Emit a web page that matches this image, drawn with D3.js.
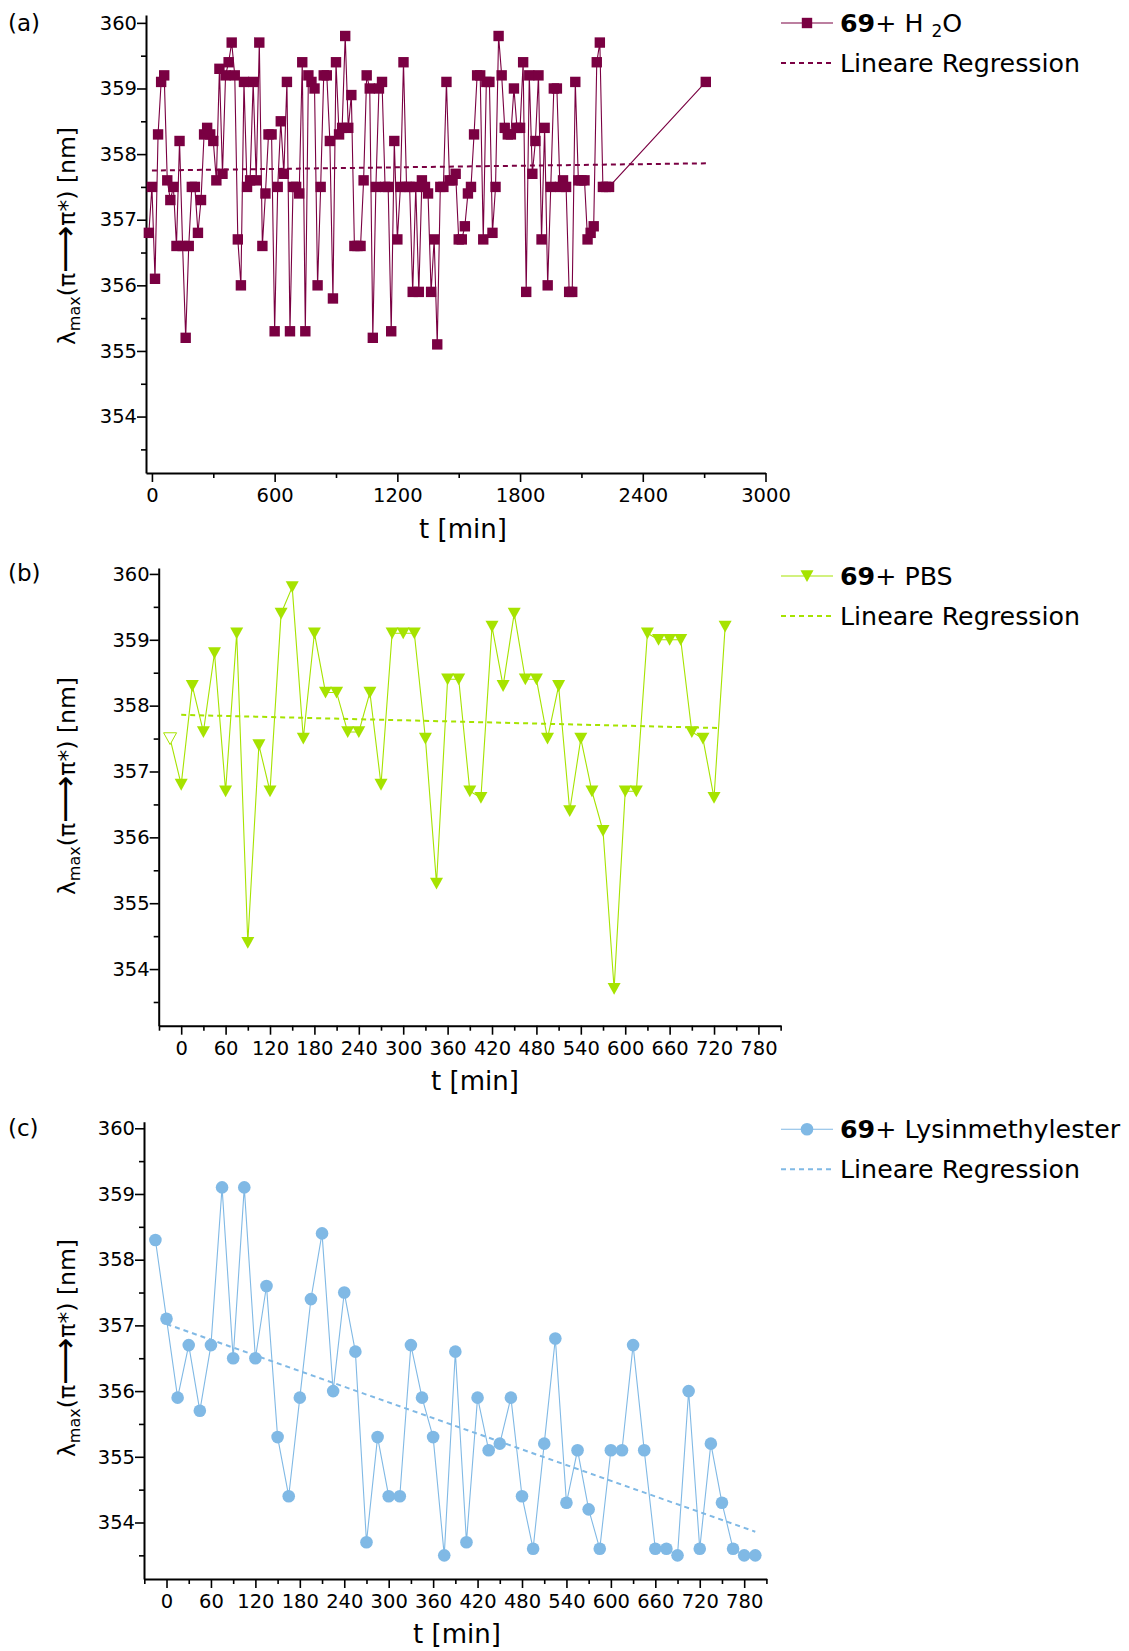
<!DOCTYPE html>
<html><head><meta charset="utf-8">
<script src="https://cdn.jsdelivr.net/npm/d3@7"></script>
<style>
body{margin:0;background:#fff}
svg{display:block}
text{font-family:"DejaVu Sans",Verdana,sans-serif;fill:#000}
</style>
</head><body>
<svg id="chart" width="1129" height="1651"></svg>
<script>
// ---------- data ----------
const yTickValues = [354,355,356,357,358,359,360];
const yMinorValues = [353.5,354.5,355.5,356.5,357.5,358.5,359.5];
const xTicksA = [0,600,1200,1800,2400,3000];
const xMinorA = [300,900,1500,2100,2700];
const xTicksBC = [0,60,120,180,240,300,360,420,480,540,600,660,720,780];
const xMinorBC = [-30,30,90,150,210,270,330,390,450,510,570,630,690,750,810];

const timeA = [-15,0,15,30,45,60,75,90,105,120,135,150,165,180,195,210,225,240,255,270,285,300,315,330,345,360,375,390,405,420,435,450,465,480,495,510,525,540,555,570,585,600,615,630,645,660,675,690,705,720,735,750,765,780,795,810,825,840,855,870,885,900,915,930,945,960,975,990,1005,1020,1035,1050,1065,1080,1095,1110,1125,1140,1155,1170,1185,1200,1215,1230,1245,1260,1275,1290,1305,1320,1335,1350,1365,1380,1395,1410,1425,1440,1455,1470,1485,1500,1515,1530,1545,1560,1575,1590,1605,1620,1635,1650,1665,1680,1695,1710,1725,1740,1755,1770,1785,1800,1815,1830,1845,1860,1875,1890,1905,1920,1935,1950,1965,1980,1995,2010,2025,2040,2055,2070,2085,2100,2115,2130,2145,2160,2175,2190,2205,2220,2235,2708];
const valueA = [356.8,357.5,356.1,358.3,359.1,359.2,357.6,357.3,357.5,356.6,
358.2,356.6,355.2,356.6,357.5,357.5,356.8,357.3,358.3,358.4,
358.3,358.2,357.6,359.3,357.7,359.2,359.4,359.7,359.2,356.7,
356.0,359.1,357.5,357.6,359.1,357.6,359.7,356.6,357.4,358.3,
358.3,355.3,357.5,358.5,357.7,359.1,355.3,357.5,357.5,357.4,
359.4,355.3,359.2,359.1,359.0,356.0,357.5,359.2,359.2,358.2,
355.8,359.4,358.3,358.4,359.8,358.4,358.9,356.6,356.6,356.6,
357.6,359.2,359.0,355.2,357.5,359.0,359.1,357.5,357.5,355.3,
358.2,356.7,357.5,359.4,357.5,357.5,355.9,357.5,355.9,357.6,
357.5,357.4,355.9,356.7,355.1,357.5,357.5,359.1,357.6,357.6,
357.7,356.7,356.7,356.9,357.4,357.5,358.3,359.2,359.2,356.7,
359.1,359.1,356.8,357.5,359.8,359.2,358.4,358.3,358.3,359.0,
358.4,358.4,359.4,355.9,359.2,357.7,358.2,359.2,356.7,358.4,
356.0,357.5,359.0,359.0,357.5,357.6,357.5,355.9,355.9,359.1,
357.6,357.6,357.6,356.7,356.8,356.9,359.4,359.7,357.5,357.5,
357.5,359.1];
const regTimeA = [0,2720];
const regValueA = [357.75,357.86];

const timeB = [-15,0,15,30,45,60,75,90,105,120,135,150,165,180,195,210,225,240,255,270,285,300,315,330,345,360,375,390,405,420,435,450,465,480,495,510,525,540,555,570,585,600,615,630,645,660,675,690,705,720,735];
const valueB = [357.5,356.8,358.3,357.6,358.8,356.7,359.1,354.4,357.4,356.7,
359.4,359.8,357.5,359.1,358.2,358.2,357.6,357.6,358.2,356.8,
359.1,359.1,359.1,357.5,355.3,358.4,358.4,356.7,356.6,359.2,
358.3,359.4,358.4,358.4,357.5,358.3,356.4,357.5,356.7,356.1,
353.7,356.7,356.7,359.1,359.0,359.0,359.0,357.6,357.5,356.6,359.2];
const hollowB = [true];
const regTimeB = [0,727];
const regValueB = [357.86,357.66];

const timeC = [-15,0,15,30,45,60,75,90,105,120,135,150,165,180,195,210,225,240,255,270,285,300,315,330,345,360,375,390,405,420,435,450,465,480,495,510,525,540,555,570,585,600,615,630,645,660,675,690,705,720,735,750,765,780,795];
const valueC = [358.3,357.1,355.9,356.7,355.7,356.7,359.1,356.5,359.1,356.5,
357.6,355.3,354.4,355.9,357.4,358.4,356.0,357.5,356.6,353.7,
355.3,354.4,354.4,356.7,355.9,355.3,353.5,356.6,353.7,355.9,
355.1,355.2,355.9,354.4,353.6,355.2,356.8,354.3,355.1,354.2,
353.6,355.1,355.1,356.7,355.1,353.6,353.6,353.5,356.0,353.6,
355.2,354.3,353.6,353.5,353.5];
const regTimeC = [0,795];
const regValueC = [357.02,353.86];

// ---------- drawing ----------
const svg = d3.select("#chart");
const LEG_FS = "25.3px";

function markerPath(type){
  if(type==="square") return "M-5.2,-5.2H5.2V5.2H-5.2Z";
  if(type==="triangle") return "M-6.5,-5.8L6.5,-5.8L0,6Z";
  return d3.symbol().type(d3.symbolCircle).size(Math.PI*6.3*6.3)();
}

function panel(o){
  const g = svg.append("g");
  const x = d3.scaleLinear().domain(o.xDomain).range([o.left,o.right]);
  const y = d3.scaleLinear().domain(o.yDomain).range([o.bottom,o.top]);

  g.append("g").attr("transform",`translate(${o.left},0)`)
    .call(d3.axisLeft(y).tickValues(yTickValues).tickSize(9).tickSizeOuter(0).tickPadding(0).tickFormat(d3.format("d")));
  g.append("g").attr("transform",`translate(${o.left},0)`)
    .call(d3.axisLeft(y).tickValues(yMinorValues).tickSize(5).tickSizeOuter(0).tickFormat(""))
    .select(".domain").remove();
  g.append("g").attr("transform",`translate(0,${o.bottom})`)
    .call(d3.axisBottom(x).tickValues(o.xTicks).tickSize(9).tickSizeOuter(0).tickPadding(6).tickFormat(d3.format("d")));
  g.append("g").attr("transform",`translate(0,${o.bottom})`)
    .call(d3.axisBottom(x).tickValues(o.xMinor).tickSize(5).tickSizeOuter(0).tickFormat(""))
    .select(".domain").remove();
  g.selectAll(".domain").attr("stroke","#000").attr("stroke-width",2);
  g.selectAll(".tick line").attr("stroke","#000").attr("stroke-width",1.6);
  g.selectAll(".tick text").attr("font-size","19.5px").attr("font-family","DejaVu Sans, Verdana, sans-serif").attr("fill","#111");

  const pts = o.t.map((t,i)=>[t,o.v[i]]);
  g.append("path").datum(pts)
    .attr("fill","none").attr("stroke",o.color).attr("stroke-width",1.1)
    .attr("d",d3.line().x(d=>x(d[0])).y(d=>y(d[1])));
  const reg = o.rt.map((t,i)=>[t,o.rv[i]]);
  g.append("path").datum(reg)
    .attr("fill","none").attr("stroke",o.color).attr("stroke-width",2)
    .attr("stroke-dasharray","5,4")
    .attr("d",d3.line().x(d=>x(d[0])).y(d=>y(d[1])));
  g.selectAll("path.mk").data(pts).join("path").attr("class","mk")
    .attr("transform",d=>`translate(${x(d[0])},${y(d[1])})`)
    .attr("d",markerPath(o.marker))
    .attr("fill",(d,i)=> (o.hollow && o.hollow[i]) ? "#fff" : o.color)
    .attr("stroke",o.color).attr("stroke-width",(d,i)=> (o.hollow && o.hollow[i]) ? 1 : 0);

  svg.append("text").attr("x",8).attr("y",o.letterY).attr("font-size","23px").text(o.letter);

  const yl = svg.append("text")
    .attr("transform",`translate(75,${o.ylabelY}) rotate(-90)`)
    .attr("text-anchor","middle").attr("font-size","23.5px");
  yl.append("tspan").text("λ");
  yl.append("tspan").attr("font-size","16px").attr("dy","5").text("max");
  yl.append("tspan").attr("dy","-5").text("(π");
  yl.append("tspan").attr("font-size","33px").attr("dy","1").text("⟶");
  yl.append("tspan").attr("dy","-1").text("π*) [nm]");

  svg.append("text").attr("x",o.xlabelX).attr("y",o.xlabelY)
    .attr("text-anchor","middle").attr("font-size","26px").text("t [min]");

  const lg = svg.append("g");
  lg.append("line").attr("x1",781).attr("x2",833).attr("y1",o.legY).attr("y2",o.legY)
    .attr("stroke",o.color).attr("stroke-width",1.1);
  lg.append("path").attr("transform",`translate(807,${o.legY})`).attr("d",markerPath(o.marker)).attr("fill",o.color);
  const lt = lg.append("text").attr("x",840).attr("y",o.legY+9).attr("font-size",LEG_FS);
  lt.append("tspan").attr("font-weight","bold").text("69");
  o.legendText(lt);
  lg.append("line").attr("x1",781).attr("x2",833).attr("y1",o.legY+40).attr("y2",o.legY+40)
    .attr("stroke",o.color).attr("stroke-width",2).attr("stroke-dasharray","5,4");
  lg.append("text").attr("x",840).attr("y",o.legY+49).attr("font-size",LEG_FS).text("Lineare Regression");
}

panel({
  left:146,right:765.5,top:15,bottom:473,
  xDomain:[-29,3000], yDomain:[353.14,360.12],
  xTicks:xTicksA, xMinor:xMinorA,
  t:timeA, v:valueA, rt:regTimeA, rv:regValueA,
  color:"#7a0042", marker:"square",
  letter:"(a)", letterY:31, ylabelY:236, xlabelX:463, xlabelY:538,
  legY:23,
  legendText: lt => { lt.append("tspan").text("+ H "); lt.append("tspan").attr("font-size","17px").attr("dy","5").text("2"); lt.append("tspan").attr("dy","-5").text("O"); }
});
panel({
  left:158.7,right:781,top:568,bottom:1025.7,
  xDomain:[-30.4,810.5], yDomain:[353.14,360.09],
  xTicks:xTicksBC, xMinor:xMinorBC,
  t:timeB, v:valueB, rt:regTimeB, rv:regValueB, hollow:hollowB,
  color:"#a6e300", marker:"triangle",
  letter:"(b)", letterY:581, ylabelY:786, xlabelX:475, xlabelY:1090,
  legY:576,
  legendText: lt => { lt.append("tspan").text("+ PBS"); }
});
panel({
  left:144,right:766.7,top:1121.7,bottom:1579,
  xDomain:[-30.4,810.4], yDomain:[353.14,360.1],
  xTicks:xTicksBC, xMinor:xMinorBC,
  t:timeC, v:valueC, rt:regTimeC, rv:regValueC,
  color:"#80b9e5", marker:"circle",
  letter:"(c)", letterY:1136, ylabelY:1348, xlabelX:457, xlabelY:1643,
  legY:1129.3,
  legendText: lt => { lt.append("tspan").text("+ Lysinmethylester"); }
});
</script>
</body></html>
